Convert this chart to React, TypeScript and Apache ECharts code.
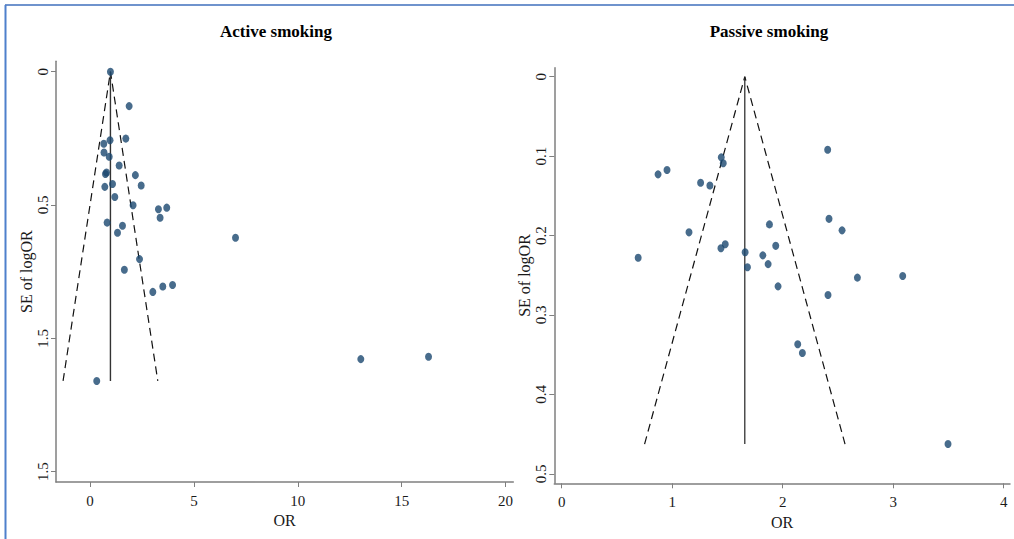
import React, { useEffect, useRef } from "react";
import * as echarts from "echarts";

// Active smoking (left panel)
const activeOR = [0.98, 1.88, 0.96, 1.72, 0.66, 0.67, 0.92, 1.4, 0.79, 0.74, 2.18, 1.08, 0.71, 2.46, 1.19, 2.07, 3.29, 3.69, 3.37, 0.82, 1.56, 1.32, 7.0, 2.38, 1.65, 3.02, 3.5, 3.97, 0.32, 13.03, 16.29];
const activeSE = [0.0, 0.129, 0.257, 0.251, 0.27, 0.303, 0.319, 0.352, 0.378, 0.384, 0.388, 0.421, 0.432, 0.427, 0.47, 0.501, 0.516, 0.51, 0.548, 0.566, 0.578, 0.604, 0.623, 0.703, 0.743, 0.826, 0.806, 0.8, 1.16, 1.078, 1.069];
const activeFunnel = [[-1.3, 1.16], [0.98, 0], [3.26, 1.16]];
const activePooled = [[0.98, 0], [0.98, 1.16]];
const activeXTicks = [0, 5, 10, 15, 20];
const activeYTicks = [0, 0.5, 1, 1.5];
const activeYLabels = ["0", "0.5", "1.5", "1.5"];

// Passive smoking (right panel)
const passiveOR = [0.692, 0.872, 0.953, 1.257, 1.341, 1.444, 1.462, 1.152, 1.441, 1.48, 1.66, 1.681, 1.82, 1.868, 1.88, 1.937, 1.958, 2.407, 2.419, 2.537, 2.676, 3.086, 2.41, 2.136, 2.178, 3.496];
const passiveSE = [0.228, 0.123, 0.1175, 0.1335, 0.137, 0.1016, 0.109, 0.196, 0.216, 0.211, 0.221, 0.24, 0.225, 0.236, 0.186, 0.213, 0.264, 0.092, 0.179, 0.1935, 0.253, 0.251, 0.275, 0.337, 0.348, 0.4626];
const passiveFunnel = [[0.75, 0.4626], [1.657, 0], [2.564, 0.4626]];
const passivePooled = [[1.657, 0], [1.657, 0.4626]];
const passiveXTicks = [0, 1, 2, 3, 4];
const passiveYTicks = [0, 0.1, 0.2, 0.3, 0.4, 0.5];
const passiveYLabels = ["0", "0.1", "0.2", "0.3", "0.4", "0.5"];

const titles = ["Active smoking", "Passive smoking"];
const xName = "OR";
const yName = "SE of logOR";

const FONT = "'Liberation Serif', 'Times New Roman', serif";
const AXIS_COLOR = "#7f7f7f";
const TEXT_COLOR = "#1a1a1a";
const DOT = "#1a476f";

function labelFor(ticks: number[], labels: string[]) {
  return (v: number) => {
    const i = ticks.findIndex((t) => Math.abs(t - v) < 1e-9);
    return i >= 0 ? labels[i] : "";
  };
}

function xAxisCfg(grid: number, min: number, max: number, ticks: number[]) {
  return {
    type: "value",
    gridIndex: grid,
    min,
    max,
    name: xName,
    nameLocation: "middle",
    nameGap: 30,
    nameTextStyle: { fontFamily: FONT, fontSize: 16, color: TEXT_COLOR },
    axisLine: { show: true, onZero: false, lineStyle: { color: AXIS_COLOR, width: 1.5 } },
    axisTick: { show: true, length: 5, customValues: ticks, lineStyle: { color: AXIS_COLOR, width: 1 } },
    axisLabel: {
      customValues: ticks,
      fontFamily: FONT,
      fontSize: 15,
      color: TEXT_COLOR,
      margin: 11,
      formatter: (v: number) => String(v),
    },
    splitLine: { show: false },
  };
}

function yAxisCfg(grid: number, min: number, max: number, ticks: number[], labels: string[]) {
  return {
    type: "value",
    gridIndex: grid,
    inverse: true,
    min,
    max,
    name: yName,
    nameLocation: "middle",
    nameGap: 17,
    nameRotate: 90,
    nameTextStyle: { fontFamily: FONT, fontSize: 16, color: TEXT_COLOR },
    axisLine: { show: true, onZero: false, lineStyle: { color: AXIS_COLOR, width: 1.5 } },
    axisTick: { show: true, length: 5, customValues: ticks, lineStyle: { color: AXIS_COLOR, width: 1 } },
    axisLabel: {
      customValues: ticks,
      rotate: 90,
      fontFamily: FONT,
      fontSize: 15,
      color: TEXT_COLOR,
      margin: 6,
      formatter: labelFor(ticks, labels),
    },
    splitLine: { show: false },
  };
}

function zip(xs: number[], ys: number[]) {
  return xs.map((x, i) => [x, ys[i]]);
}

export default function App() {
  const ref = useRef<HTMLDivElement>(null);
  useEffect(() => {
    if (!ref.current) return;
    const chart = echarts.init(ref.current, null, { renderer: "svg" });
    const grids = [
      { left: 56, top: 61.3, width: 457.3, height: 420.7 },
      { left: 554.3, top: 67.7, width: 455.7, height: 415.6 },
    ];
    const titleStyle = { fontFamily: FONT, fontSize: 17, fontWeight: "bold", color: "#000" };
    chart.setOption({
      animation: false,
      backgroundColor: "#ffffff",
      title: [
        { text: titles[0], left: 271, top: 18, textAlign: "center", textStyle: titleStyle },
        { text: titles[1], left: 764, top: 18, textAlign: "center", textStyle: titleStyle },
      ],
      graphic: [
        { type: "line", shape: { x1: 5, y1: 5, x2: 1014, y2: 5 }, style: { stroke: "#3f6fbd", lineWidth: 1.6 } },
        { type: "line", shape: { x1: 5.5, y1: 5, x2: 5.5, y2: 539 }, style: { stroke: "#4f80cc", lineWidth: 2 } },
      ],
      grid: grids,
      xAxis: [xAxisCfg(0, -1.64, 20.37, activeXTicks), xAxisCfg(1, -0.067, 4.057, passiveXTicks)],
      yAxis: [
        yAxisCfg(0, -0.039, 1.539, activeYTicks, activeYLabels),
        yAxisCfg(1, -0.0113, 0.512, passiveYTicks, passiveYLabels),
      ],
      series: [
        {
          type: "line",
          xAxisIndex: 0,
          yAxisIndex: 0,
          data: activeFunnel,
          symbol: "none",
          lineStyle: { color: "#111", width: 1.2, type: [8, 5] },
          z: 2,
        },
        {
          type: "line",
          xAxisIndex: 0,
          yAxisIndex: 0,
          data: activePooled,
          symbol: "none",
          lineStyle: { color: "#333", width: 1.4 },
          z: 2,
        },
        {
          type: "scatter",
          xAxisIndex: 0,
          yAxisIndex: 0,
          data: zip(activeOR, activeSE),
          symbol: "circle",
          symbolSize: [7, 8],
          itemStyle: { color: DOT },
          z: 3,
        },
        {
          type: "line",
          xAxisIndex: 1,
          yAxisIndex: 1,
          data: passiveFunnel,
          symbol: "none",
          lineStyle: { color: "#111", width: 1.2, type: [8, 5] },
          z: 2,
        },
        {
          type: "line",
          xAxisIndex: 1,
          yAxisIndex: 1,
          data: passivePooled,
          symbol: "none",
          lineStyle: { color: "#222", width: 1.2 },
          z: 2,
        },
        {
          type: "scatter",
          xAxisIndex: 1,
          yAxisIndex: 1,
          data: zip(passiveOR, passiveSE),
          symbol: "circle",
          symbolSize: [7, 8],
          itemStyle: { color: DOT },
          z: 3,
        },
      ],
    });
    return () => chart.dispose();
  }, []);
  return (
    <div
      ref={ref}
      style={{ position: "absolute", left: 0, top: 0, width: 1014, height: 539 }}
    />
  );
}
